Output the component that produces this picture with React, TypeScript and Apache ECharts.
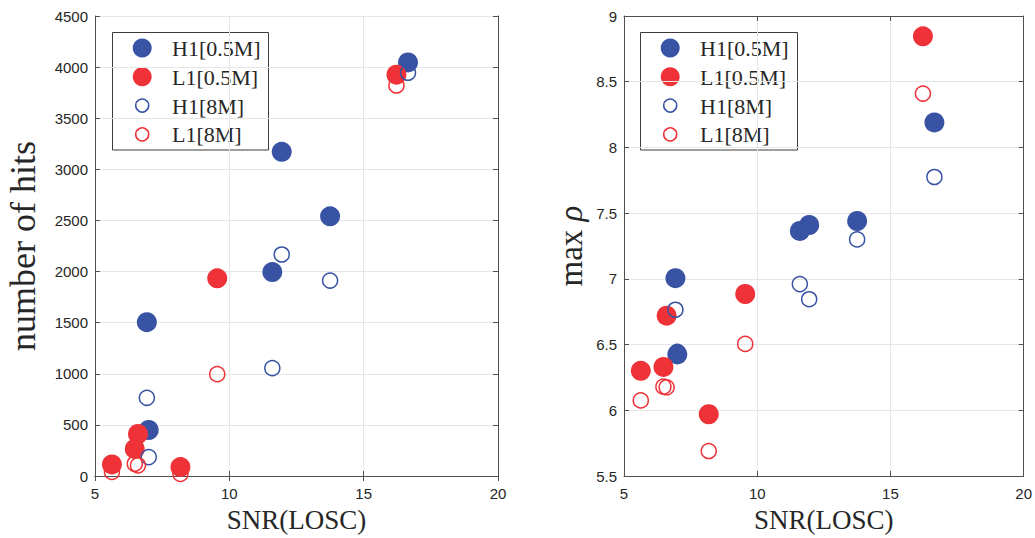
import React, { useEffect, useRef } from 'react';
import * as echarts from 'echarts';

// Event SNRs (x values)
const snrH1 = [16.65, 13.75, 11.95, 11.6, 6.93, 7.0];
const snrL1 = [16.22, 9.55, 6.6, 6.48, 5.63, 8.18];

// Left panel: number of hits
const hitsH1Short = [4046, 2540, 3171, 1995, 1505, 450];
const hitsL1Short = [3926, 1934, 411, 265, 113, 87];
const hitsH1Long = [3945, 1912, 2167, 1055, 765, 185];
const hitsL1Long = [3820, 996, 104, 120, 40, 20];

// Right panel: max rho
const rhoH1Short = [8.19, 7.44, 7.41, 7.365, 7.005, 6.425];
const rhoL1Short = [8.845, 6.885, 6.72, 6.33, 6.3, 5.97];
const rhoH1Long = [7.775, 7.3, 6.845, 6.96, 6.765, 6.445];
const rhoL1Long = [8.41, 6.505, 6.175, 6.18, 6.075, 5.69];

const seriesNames = ['H1[0.5M]', 'L1[0.5M]', 'H1[8M]', 'L1[8M]'];

const xRange = { min: 5, max: 20, interval: 5 };
const hitsRange = { min: 0, max: 4500, interval: 500 };
const rhoRange = { min: 5.5, max: 9, interval: 0.5 };

const BLUE = '#3853a4';
const RED = '#ee3237';
const AX = '#505050';
const TXT = '#262626';
const GRIDC = '#e6e6e6';
const SERIF = "'Liberation Serif', 'Times New Roman', serif";
const SANS = "'Liberation Sans', Arial, sans-serif";

const seriesColors = [BLUE, RED, BLUE, RED];
const seriesFilled = [true, true, false, false];

const pairs = (xs: number[], ys: number[]) => xs.map((x, i) => [x, ys[i]]);
const plain = (v: number) => String(v);

function makeAxes(g: number, yr: { min: number; max: number; interval: number }, yName: string, yGap: number, yNameStyle: any) {
  const line = { show: true, lineStyle: { color: AX, width: 1 } };
  const tick = { show: true, inside: true, length: 5, lineStyle: { color: AX, width: 1 } };
  const xAxes = [
    {
      gridIndex: g, type: 'value', ...xRange, position: 'bottom',
      axisLine: line, axisTick: tick,
      axisLabel: { color: TXT, fontSize: 15, fontFamily: SANS, margin: 10, formatter: plain },
      splitLine: { show: true, lineStyle: { color: GRIDC, width: 1 } },
      name: 'SNR(LOSC)', nameLocation: 'middle', nameGap: 30,
      nameTextStyle: { fontFamily: SERIF, fontSize: 27, color: TXT },
    },
    {
      gridIndex: g, type: 'value', ...xRange, position: 'top',
      axisLine: line, axisTick: tick, axisLabel: { show: false }, splitLine: { show: false },
    },
  ];
  const yAxes = [
    {
      gridIndex: g, type: 'value', ...yr, position: 'left',
      axisLine: line, axisTick: tick,
      axisLabel: { color: TXT, fontSize: 15, fontFamily: SANS, margin: 7, formatter: plain },
      splitLine: { show: true, lineStyle: { color: GRIDC, width: 1 } },
      name: yName, nameLocation: 'middle', nameGap: yGap, nameRotate: 90,
      nameTextStyle: yNameStyle,
    },
    {
      gridIndex: g, type: 'value', ...yr, position: 'right',
      axisLine: line, axisTick: tick, axisLabel: { show: false }, splitLine: { show: false },
    },
  ];
  return { xAxes, yAxes };
}

function makeSeries(g: number, h1s: number[], l1s: number[], h1l: number[], l1l: number[]) {
  const idx = { xAxisIndex: g * 2, yAxisIndex: g * 2 };
  return [
    { type: 'scatter', name: seriesNames[0], ...idx, data: pairs(snrH1, h1s), symbol: 'circle', symbolSize: 20, itemStyle: { color: BLUE, opacity: 1 } },
    { type: 'scatter', name: seriesNames[1], ...idx, data: pairs(snrL1, l1s), symbol: 'circle', symbolSize: 20, itemStyle: { color: RED, opacity: 1 } },
    { type: 'scatter', name: seriesNames[2], ...idx, data: pairs(snrH1, h1l), symbol: 'circle', symbolSize: 15, itemStyle: { color: 'rgba(255,255,255,0)', borderColor: BLUE, borderWidth: 1.5, opacity: 1 } },
    { type: 'scatter', name: seriesNames[3], ...idx, data: pairs(snrL1, l1l), symbol: 'circle', symbolSize: 15, itemStyle: { color: 'rgba(255,255,255,0)', borderColor: RED, borderWidth: 1.5, opacity: 1 } },
  ];
}

// Legend box drawn as a graphic group (box at left, top)
function makeLegendGraphic(left: number, top: number, width: number) {
  const rowH = 28.8;
  const firstRow = 15.5;
  const children: any[] = [
    {
      type: 'rect', shape: { x: 0, y: 0, width, height: 117.5 },
      style: { fill: '#ffffff', stroke: '#3c3c3c', lineWidth: 1 },
    },
  ];
  seriesNames.forEach((name, i) => {
    const cy = firstRow + i * rowH;
    const filled = seriesFilled[i];
    children.push({
      type: 'circle',
      shape: { cx: 29.7, cy, r: filled ? 9.5 : 6.5 },
      style: filled
        ? { fill: seriesColors[i], stroke: 'none' }
        : { fill: 'none', stroke: seriesColors[i], lineWidth: 1.5 },
    });
    children.push({
      type: 'text', x: 59.5, y: cy + 0.5,
      style: {
        text: name, fill: TXT, fontSize: 22, fontFamily: SERIF,
        verticalAlign: 'middle', align: 'left',
      },
    });
  });
  return { type: 'group', x: left, y: top, z: 100, children };
}

export default function App() {
  const ref = useRef<HTMLDivElement>(null);
  useEffect(() => {
    document.body.style.margin = '0';
    if (!ref.current) return;
    const chart = echarts.init(ref.current, undefined, { renderer: 'svg' });
    const left = makeAxes(0, hitsRange, 'number of hits', 54, { fontFamily: SERIF, fontSize: 36, color: TXT });
    const right = makeAxes(1, rhoRange, 'max {i|ρ}', 37, {
      fontFamily: SERIF, fontSize: 33, color: TXT,
      rich: { i: { fontFamily: SERIF, fontSize: 33, fontStyle: 'italic', color: TXT } },
    });
    chart.setOption({
      animation: false,
      backgroundColor: '#ffffff',
      grid: [
        { left: 95, top: 16, width: 403, height: 463, show: false },
        { left: 624, top: 16, width: 402, height: 463, show: false },
      ],
      xAxis: [...left.xAxes, ...right.xAxes],
      yAxis: [...left.yAxes, ...right.yAxes],
      graphic: [makeLegendGraphic(112.5, 32.5, 156), makeLegendGraphic(640.5, 32.5, 157)],
      series: [
        ...makeSeries(0, hitsH1Short, hitsL1Short, hitsH1Long, hitsL1Long),
        ...makeSeries(1, rhoH1Short, rhoL1Short, rhoH1Long, rhoL1Long),
      ],
    });
    return () => chart.dispose();
  }, []);
  return <div ref={ref} style={{ width: 1035, height: 538 }} />;
}
